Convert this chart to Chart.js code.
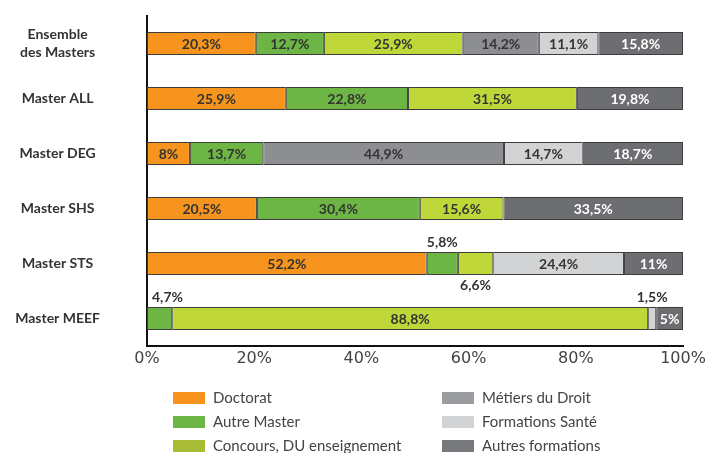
<!DOCTYPE html>
<html>
<head>
<meta charset="utf-8">
<script src="https://cdn.jsdelivr.net/npm/chart.js@4/dist/chart.umd.min.js"></script>
<style>
  html, body { margin: 0; padding: 0; background: #fff; }
  #wrap { width: 712px; height: 453px; position: relative; }
</style>
</head>
<body>
<div id="wrap"><canvas id="chart" width="712" height="453"></canvas></div>
<script>
// categories (top to bottom)
const categories = [['Ensemble', 'des Masters'], 'Master ALL', 'Master DEG', 'Master SHS', 'Master STS', 'Master MEEF'];

// series values in %, null = no segment
const doctorat      = [20.3, 25.9, 8,    20.5, 52.2, null];
const autreMaster   = [12.7, 22.8, 13.7, 30.4, 5.8,  4.7];
const concours      = [25.9, 31.5, null, 15.6, 6.6,  88.8];
const metiersDroit  = [14.2, null, 44.9, null, null, null];
const formSante     = [11.1, null, 14.7, null, 24.4, 1.5];
const autresForm    = [15.8, 19.8, 18.7, 33.5, 11,   5];

const seriesNames = ['Doctorat', 'Autre Master', 'Concours, DU enseignement', 'Métiers du Droit', 'Formations Santé', 'Autres formations'];
const xTicks = [0, 20, 40, 60, 80, 100];

const barColors    = ['#F7941D', '#6DB545', '#BFD739', '#8D8E92', '#D1D3D4', '#6D6E71'];
const legendColors = ['#F7941D', '#6DB545', '#A9BC38', '#9B9C9F', '#D1D3D4', '#77787B'];
const labelColors  = ['#333', '#333', '#333', '#333', '#333', '#fff'];

const FONT = 'Lato';

function fmt(v) {
    return String(v).replace('.', ',') + '%';
}

// values written on / next to each segment
const segmentLabels = {
    id: 'segmentLabels',
    afterDatasetsDraw(chart) {
        const ctx = chart.ctx;
        const area = chart.chartArea;
        ctx.save();
        ctx.font = 'bold 14px ' + FONT;
        ctx.textBaseline = 'middle';
        ctx.textAlign = 'center';
        const lastOutside = {};
        chart.data.datasets.forEach((ds, i) => {
            const meta = chart.getDatasetMeta(i);
            meta.data.forEach((bar, j) => {
                const v = ds.data[j];
                if (v === null || v === undefined) return;
                const text = fmt(v);
                const tw = ctx.measureText(text).width;
                const left = Math.min(bar.x, bar.base);
                const w = Math.abs(bar.x - bar.base);
                const cx = left + w / 2;
                if (tw <= w * 0.82) {
                    ctx.fillStyle = labelColors[i];
                    ctx.fillText(text, cx, bar.y + 1);
                } else {
                    let x = Math.max(cx, area.left + tw / 2 + 5);
                    x = Math.min(x, area.right - tw / 2);
                    let below = false;
                    const prev = lastOutside[j];
                    if (prev && !prev.below && Math.abs(prev.x - x) < (prev.w + tw) / 2 + 4) below = true;
                    const y = below ? bar.y + bar.height / 2 + 10 : bar.y - bar.height / 2 - 9;
                    ctx.fillStyle = '#333';
                    ctx.fillText(text, x, y);
                    lastOutside[j] = { x: x, w: tw, below: below };
                }
            });
        });
        ctx.restore();
    }
};

// two-column legend under the axis
const gridLegend = {
    id: 'gridLegend',
    afterDraw(chart) {
        const ctx = chart.ctx;
        const cols = [173, 442];
        const rows = [398, 422, 446];
        ctx.save();
        ctx.font = '15px ' + FONT;
        ctx.textBaseline = 'middle';
        ctx.textAlign = 'left';
        chart.data.datasets.forEach((ds, i) => {
            const x = cols[Math.floor(i / 3)];
            const y = rows[i % 3];
            ctx.fillStyle = legendColors[i];
            ctx.fillRect(x, y - 6, 32, 12);
            ctx.fillStyle = '#444';
            ctx.fillText(ds.label, x + 40, y);
        });
        ctx.restore();
    }
};

const seriesValues = [doctorat, autreMaster, concours, metiersDroit, formSante, autresForm];

const datasets = seriesValues.map((values, i) => ({
    label: seriesNames[i],
    data: values,
    backgroundColor: barColors[i],
    borderColor: '#3c3c3c',
    borderWidth: 1,
    borderSkipped: false,
    barPercentage: 0.42,
    categoryPercentage: 1
}));

new Chart(document.getElementById('chart'), {
    type: 'bar',
    data: { labels: categories, datasets: datasets },
    options: {
        indexAxis: 'y',
        responsive: false,
        animation: false,
        layout: { padding: { top: 16, right: 29, left: 0, bottom: 0 } },
        plugins: {
            legend: { display: false },
            tooltip: { enabled: false }
        },
        scales: {
            x: {
                stacked: true,
                min: 0,
                max: 100,
                afterBuildTicks: s => { s.ticks = xTicks.map(v => ({ value: v })); },
                afterFit: s => { s.height = 107; s.paddingLeft = 0; s.paddingRight = 0; },
                grid: { display: false, drawTicks: false },
                border: { display: true, color: '#111', width: 2 },
                ticks: {
                    padding: 3,
                    color: '#444',
                    font: { family: 'DejaVu Sans', size: 16 },
                    callback: v => v + '%'
                }
            },
            y: {
                stacked: true,
                afterFit: s => { s.width = 147; s.paddingTop = 0; s.paddingBottom = 0; },
                grid: { display: false, drawTicks: false },
                border: { display: true, color: '#111', width: 2 },
                ticks: {
                    crossAlign: 'center',
                    padding: 47,
                    color: '#333',
                    font: { family: FONT, size: 14, weight: 'bold', lineHeight: 1.35 }
                }
            }
        }
    },
    plugins: [segmentLabels, gridLegend]
});
</script>
</body>
</html>
